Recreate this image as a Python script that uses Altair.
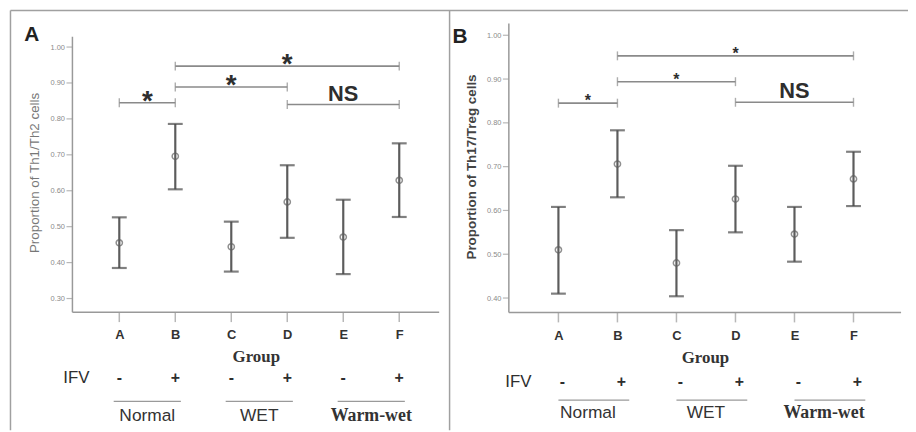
import altair as alt
import pandas as pd

# ---------------- data ----------------
groups = ["A", "B", "C", "D", "E", "F"]
group_index = [1, 2, 3, 4, 5, 6]
ifv_signs = ["-", "+", "-", "+", "-", "+"]
conditions = ["Normal", "WET", "Warm-wet"]
condition_first = [1, 3, 5]

# Panel A: Th1/Th2
th1_mean = [0.455, 0.696, 0.444, 0.569, 0.471, 0.629]
th1_low = [0.385, 0.604, 0.375, 0.469, 0.368, 0.527]
th1_high = [0.526, 0.786, 0.514, 0.671, 0.575, 0.732]

# Panel B: Th17/Treg
th17_mean = [0.510, 0.706, 0.480, 0.626, 0.546, 0.672]
th17_low = [0.410, 0.630, 0.404, 0.550, 0.483, 0.610]
th17_high = [0.608, 0.783, 0.555, 0.702, 0.608, 0.734]

# significance brackets
bracket_from = [1, 2, 2, 4]
bracket_to = [2, 4, 6, 6]
bracket_label = ["*", "*", "*", "NS"]
bracket_y_a = [0.845, 0.889, 0.947, 0.840]
bracket_y_b = [0.845, 0.894, 0.953, 0.847]

yticks_a = [0.30, 0.40, 0.50, 0.60, 0.70, 0.80, 0.90, 1.00]
yticks_b = [0.40, 0.50, 0.60, 0.70, 0.80, 0.90, 1.00]

SANS = "Liberation Sans"
SERIF = "Liberation Serif"
DARK = "#2e2e2e"
BAR = "#5c5c5c"
LINE = "#8a8a8a"
AXIS = "#999999"
H = 424
W = 908


def panel(mean, low, high, br_y, xdom, xrange, ydom, yrange, yticks, ytitle,
          ytitle_bold, ytitle_color, ytitle_x, ytitle_y, star_size, star_dy,
          row_ifv, row_line, row_cond, ifv_x, sign_dx, line_l, line_r):
    df = pd.DataFrame({"g": groups, "i": group_index, "mean": mean,
                       "low": low, "high": high, "sign": ifv_signs})
    br = pd.DataFrame({"x1": bracket_from, "x2": bracket_to, "y": br_y,
                       "label": bracket_label})
    br["mid"] = (br["x1"] + br["x2"]) / 2
    ends = pd.concat([br[["x1", "y"]].rename(columns={"x1": "x"}),
                      br[["x2", "y"]].rename(columns={"x2": "x"})])
    cond = pd.DataFrame({"c": conditions, "first": condition_first})
    cond["l"] = cond["first"] + line_l
    cond["r"] = cond["first"] + 1 + line_r
    cond["mid"] = cond["first"] + 0.5
    ytick_df = pd.DataFrame({"v": yticks})

    xs = alt.Scale(domain=xdom, range=xrange, nice=False, zero=False)
    ys = alt.Scale(domain=ydom, range=yrange, nice=False, zero=False)
    x_off = -(H - yrange[0])
    y_off = -xrange[0]

    xaxis = alt.Axis(values=group_index, labelExpr=f"{groups}[datum.value - 1]",
                     orient="bottom", offset=x_off, grid=False, domain=False,
                     ticks=False, labelFont=SANS,
                     labelFontWeight="bold", labelFontSize=13, labelColor="#333333",
                     labelPadding=17, labelFlush=False, title="Group",
                     titleFont=SERIF, titleFontSize=17, titleFontWeight="bold",
                     titleColor="#333333", titleY=45, titleBaseline="middle")
    yaxis = alt.Axis(values=yticks, format=".2f", orient="left", offset=y_off,
                     grid=False, domain=False, ticks=False, labelFont=SANS,
                     labelFontSize=7.5, labelColor="#8a8a8a", labelPadding=8,
                     labelFlush=False, title=ytitle, titleFont=SANS,
                     titleFontSize=13.5,
                     titleFontWeight="bold" if ytitle_bold else "normal",
                     titleColor=ytitle_color, titleX=ytitle_x, titleY=ytitle_y,
                     titleBaseline="middle")

    def X(f):
        return alt.X(f, scale=xs, axis=xaxis)

    def Y(f):
        return alt.Y(f, scale=ys, axis=yaxis)

    base = alt.Chart(df)
    one = alt.Chart(pd.DataFrame({"k": [0]}))
    # axis lines (at the plot-area edges) and ticks (through the scales)
    ydomain = one.mark_rule(color=AXIS, strokeWidth=1.5).encode(
        x=alt.value(xrange[0]), y=alt.value(yrange[1]), y2=alt.value(yrange[0]))
    xdomain = one.mark_rule(color=AXIS, strokeWidth=1.5).encode(
        x=alt.value(xrange[0]), x2=alt.value(xrange[1]), y=alt.value(yrange[0]))
    xtick = base.mark_tick(orient="vertical", size=10, thickness=1.5,
                           color=AXIS).encode(
        x=X("i:Q"), y=alt.value(yrange[0] + 5))
    ytick = alt.Chart(ytick_df).mark_tick(orient="horizontal", size=6,
                                          thickness=1.2, color=AXIS).encode(
        x=alt.value(xrange[0] - 3), y=Y("v:Q"))

    bars = base.mark_rule(color=BAR, strokeWidth=2.2).encode(
        x=X("i:Q"), y=Y("low:Q"), y2="high:Q")
    cap_hi = base.mark_tick(orient="horizontal", size=15, thickness=2.2,
                            color="#4a4a4a").encode(x=X("i:Q"), y=Y("high:Q"))
    cap_lo = base.mark_tick(orient="horizontal", size=15, thickness=2.2,
                            color="#4a4a4a").encode(x=X("i:Q"), y=Y("low:Q"))
    pts = base.mark_point(shape="circle", size=40, filled=False, color="#606060",
                          strokeWidth=1.5).encode(x=X("i:Q"), y=Y("mean:Q"))

    bchart = alt.Chart(br)
    brule = bchart.mark_rule(color=LINE, strokeWidth=1.6).encode(
        x=X("x1:Q"), x2="x2:Q", y=Y("y:Q"))
    bends = alt.Chart(ends).mark_tick(orient="vertical", size=9, thickness=1.4,
                                      color=LINE).encode(x=X("x:Q"), y=Y("y:Q"))
    stars = bchart.transform_filter("datum.label == '*'").mark_text(
        font=SANS, fontWeight="bold", fontSize=star_size, color=DARK,
        baseline="alphabetic", dy=star_dy).encode(
        x=X("mid:Q"), y=Y("y:Q"), text="label:N")
    ns = bchart.transform_filter("datum.label == 'NS'").mark_text(
        font=SANS, fontWeight="bold", fontSize=22, color=DARK,
        baseline="alphabetic", dy=-4).encode(
        x=X("mid:Q"), y=Y("y:Q"), text="label:N")

    signs = base.mark_text(font=SANS, fontWeight="bold", fontSize=16, color=DARK,
                           baseline="middle", dx=sign_dx).encode(
        x=X("i:Q"), y=alt.value(row_ifv), text="sign:N")
    ifv = alt.Chart(pd.DataFrame({"t": ["IFV"]})).mark_text(
        font=SANS, fontSize=17, color=DARK, baseline="middle").encode(
        x=alt.value(ifv_x), y=alt.value(row_ifv), text="t:N")
    cchart = alt.Chart(cond)
    ulines = cchart.mark_rule(color="#9a9a9a", strokeWidth=1.3).encode(
        x=X("l:Q"), x2="r:Q", y=alt.value(row_line))
    clabels = cchart.transform_filter("datum.c != 'Warm-wet'").mark_text(
        font=SANS, fontSize=17.5, color="#333333", baseline="middle").encode(
        x=X("mid:Q"), y=alt.value(row_cond), text="c:N")
    clabel_serif = cchart.transform_filter("datum.c == 'Warm-wet'").mark_text(
        font=SERIF, fontWeight="bold", fontSize=18, color="#333333",
        baseline="middle").encode(
        x=X("mid:Q"), y=alt.value(row_cond), text="c:N")

    return alt.layer(bars, ydomain, xdomain, xtick, ytick, cap_hi, cap_lo, pts,
                     brule, bends, stars, ns, signs, ifv, ulines, clabels,
                     clabel_serif)


panel_a = panel(th1_mean, th1_low, th1_high, bracket_y_a,
                xdom=[0.163, 6.713], xrange=[65, 435],
                ydom=[0.262, 1.029], yrange=[305, 27], yticks=yticks_a,
                ytitle="Proportion of Th1/Th2 cells", ytitle_bold=False,
                ytitle_color="#777777", ytitle_x=-38, ytitle_y=164,
                star_size=28, star_dy=7, row_ifv=371, row_line=395, row_cond=410,
                ifv_x=69, sign_dx=0, line_l=-0.1, line_r=0.1)
panel_b = panel(th17_mean, th17_low, th17_high, bracket_y_b,
                xdom=[0.16, 6.806], xrange=[505.3, 901],
                ydom=[0.367, 1.027], yrange=[305.3, 13.7], yticks=yticks_b,
                ytitle="Proportion of Th17/Treg cells", ytitle_bold=True,
                ytitle_color="#444444", ytitle_x=-38, ytitle_y=158,
                star_size=16, star_dy=3, row_ifv=375, row_line=393.7,
                row_cond=407, ifv_x=515, sign_dx=4, line_l=0.0, line_r=0.2)

one = pd.DataFrame({"t": ["A"]})
frame_top = alt.Chart(one).mark_rule(color="#a0a0a0", strokeWidth=1.5).encode(
    x=alt.value(2.5), x2=alt.value(W), y=alt.value(0.75))
frame_left = alt.Chart(one).mark_rule(color="#a0a0a0", strokeWidth=1.5).encode(
    x=alt.value(2.5), y=alt.value(0.75), y2=alt.value(H))
frame_mid = alt.Chart(one).mark_rule(color="#a0a0a0", strokeWidth=1.5).encode(
    x=alt.value(445.5), y=alt.value(0.75), y2=alt.value(H))
letter_a = alt.Chart(pd.DataFrame({"t": ["A"]})).mark_text(
    font=SANS, fontWeight="bold", fontSize=21, color="#222222", baseline="middle").encode(
    x=alt.value(24), y=alt.value(25), text="t:N")
letter_b = alt.Chart(pd.DataFrame({"t": ["B"]})).mark_text(
    font=SANS, fontWeight="bold", fontSize=21, color="#222222", baseline="middle").encode(
    x=alt.value(456), y=alt.value(27), text="t:N")

chart = alt.layer(panel_a, panel_b, frame_top, frame_left, frame_mid,
                  letter_a, letter_b).resolve_scale(
    x="independent", y="independent").properties(
    width=W, height=H, padding=0,
    autosize=alt.AutoSizeParams(type="none"),
    background="white").configure_view(stroke=None)

chart.save("out.html", embed_options={"renderer": "svg", "actions": False})
